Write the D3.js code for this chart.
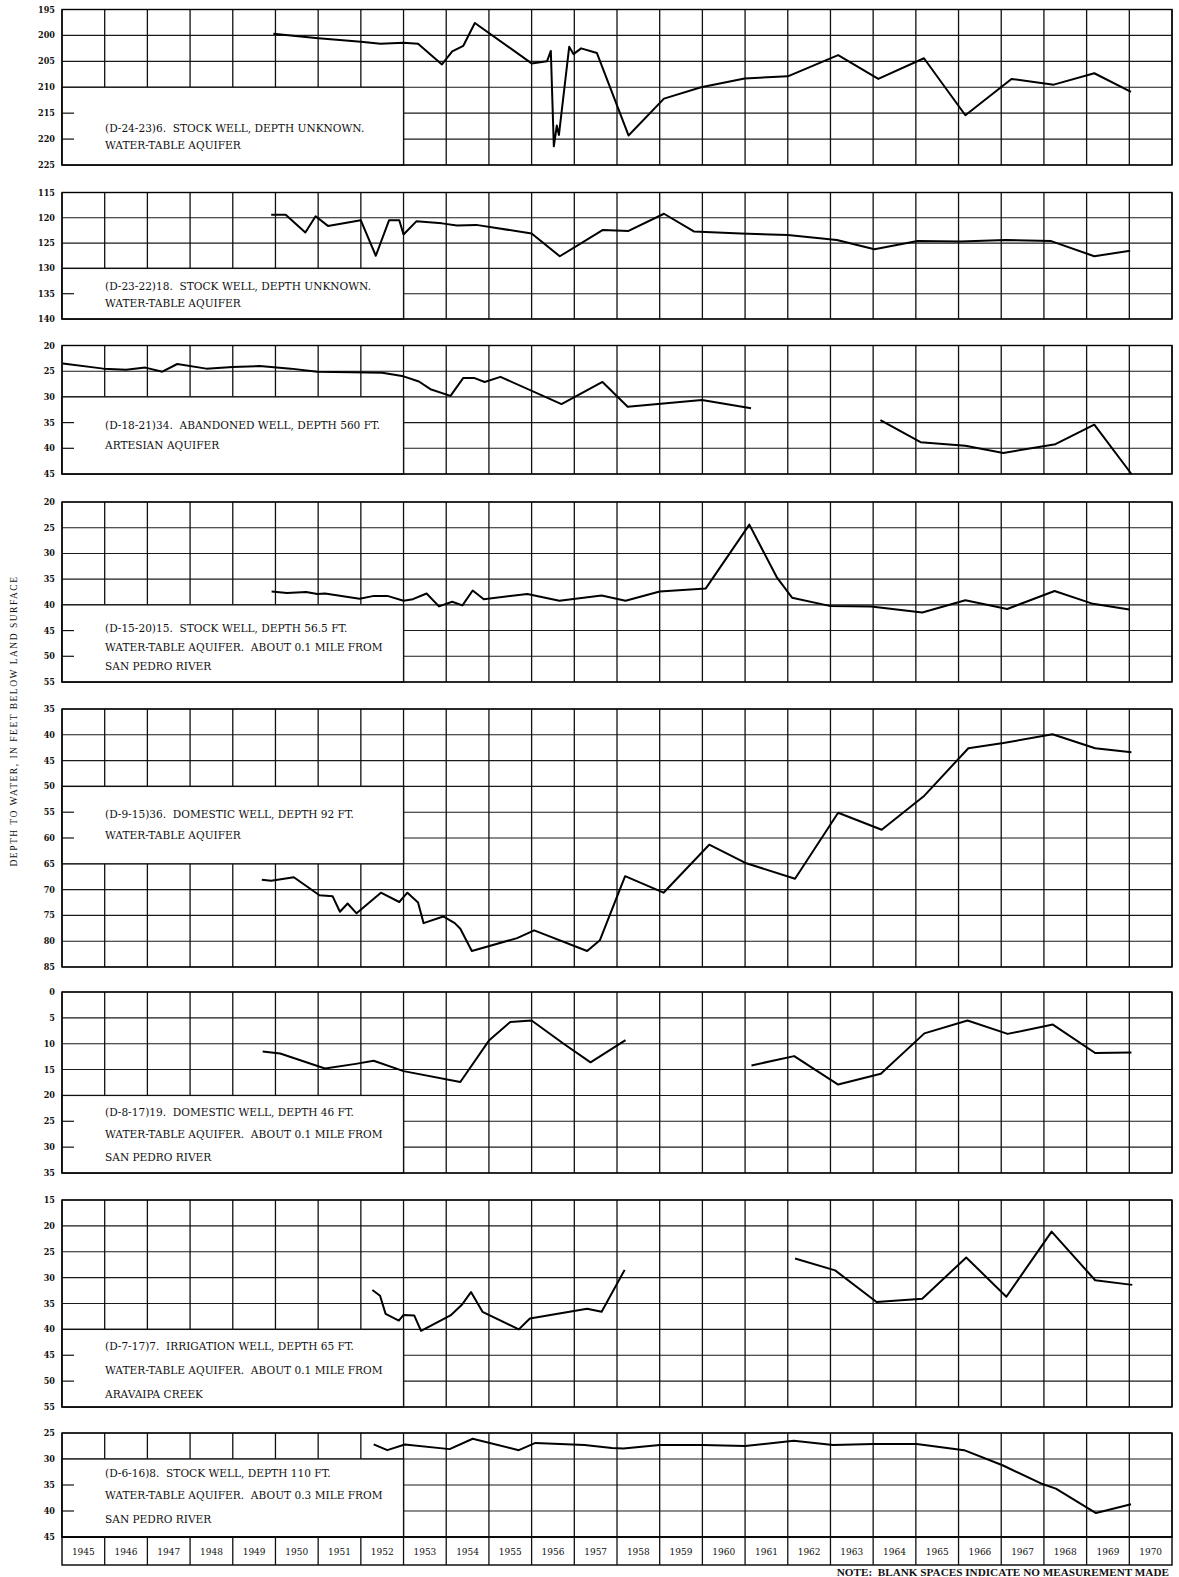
<!DOCTYPE html>
<html><head><meta charset="utf-8">
<script src="https://cdn.jsdelivr.net/npm/d3@7/dist/d3.min.js"></script>
<style>body{margin:0;background:#fff}svg{display:block}</style>
</head><body>
<svg id="c" width="1179" height="1577"></svg>
<script>
// ---------------- DATA ----------------
const years = d3.range(1945, 1971);
const tickStep = 5;
const panelDomains = [[195,225],[115,140],[20,45],[20,55],[35,85],[0,35],[15,55],[25,45]];
const boxRanges = [[210,225],[130,140],[30,45],[40,55],[50,65],[20,35],[40,55],[30,45]];
const boxEndYear = 1953;
const panelLabels = [
  ["(D-24-23)6.  STOCK WELL, DEPTH UNKNOWN.", "WATER-TABLE AQUIFER"],
  ["(D-23-22)18.  STOCK WELL, DEPTH UNKNOWN.", "WATER-TABLE AQUIFER"],
  ["(D-18-21)34.  ABANDONED WELL, DEPTH 560 FT.", "ARTESIAN AQUIFER"],
  ["(D-15-20)15.  STOCK WELL, DEPTH 56.5 FT.", "WATER-TABLE AQUIFER.  ABOUT 0.1 MILE FROM", "SAN PEDRO RIVER"],
  ["(D-9-15)36.  DOMESTIC WELL, DEPTH 92 FT.", "WATER-TABLE AQUIFER"],
  ["(D-8-17)19.  DOMESTIC WELL, DEPTH 46 FT.", "WATER-TABLE AQUIFER.  ABOUT 0.1 MILE FROM", "SAN PEDRO RIVER"],
  ["(D-7-17)7.  IRRIGATION WELL, DEPTH 65 FT.", "WATER-TABLE AQUIFER.  ABOUT 0.1 MILE FROM", "ARAVAIPA CREEK"],
  ["(D-6-16)8.  STOCK WELL, DEPTH 110 FT.", "WATER-TABLE AQUIFER.  ABOUT 0.3 MILE FROM", "SAN PEDRO RIVER"]
];
const yAxisTitle = "DEPTH TO WATER, IN FEET BELOW LAND SURFACE";
const noteText = "NOTE:  BLANK SPACES INDICATE NO MEASUREMENT MADE";

// [decimal year, depth in feet]; null = no measurement (gap)
const well1 = [[1949.95,199.7],[1950.94,200.5],[1952.0,201.2],[1952.46,201.6],[1953.0,201.4],[1953.34,201.6],
  [1953.9,205.6],[1954.14,203.1],[1954.4,202.0],[1954.67,197.6],[1956.0,205.4],[1956.36,205.0],[1956.45,203.0],
  [1956.52,221.4],[1956.59,217.4],[1956.64,219.2],[1956.88,202.2],[1956.98,203.6],[1957.16,202.5],[1957.53,203.4],
  [1958.27,219.3],[1959.1,212.2],[1959.97,210.0],[1960.99,208.3],[1962.0,207.9],[1963.18,203.8],[1964.12,208.4],
  [1965.19,204.4],[1966.16,215.4],[1967.24,208.4],[1968.23,209.5],[1969.18,207.3],[1970.04,210.9]];
const well2 = [[1949.9,119.4],[1950.24,119.4],[1950.7,122.9],[1950.94,119.7],[1951.23,121.6],[1952.0,120.5],
  [1952.35,127.5],[1952.66,120.5],[1952.9,120.5],[1953.0,123.3],[1953.3,120.7],[1953.9,121.1],[1954.25,121.5],
  [1954.7,121.4],[1956.0,123.1],[1956.66,127.6],[1957.67,122.4],[1958.27,122.6],[1959.1,119.2],[1959.8,122.7],
  [1960.9,123.1],[1962.0,123.4],[1963.15,124.4],[1964.03,126.2],[1965.04,124.6],[1966.04,124.7],[1967.1,124.4],
  [1968.17,124.6],[1969.18,127.6],[1970.02,126.5]];
const well3 = [[1945.02,23.5],[1945.97,24.5],[1946.5,24.7],[1946.95,24.3],[1947.35,25.1],[1947.7,23.6],
  [1948.38,24.5],[1949.0,24.2],[1949.63,24.0],[1950.36,24.5],[1950.98,25.1],[1951.78,25.2],[1952.5,25.3],
  [1953.0,26.0],[1953.36,27.0],[1953.63,28.5],[1954.1,29.8],[1954.4,26.3],[1954.65,26.3],[1954.9,27.1],
  [1955.27,26.1],[1956.7,31.4],[1957.66,27.1],[1958.25,31.9],[1959.99,30.6],[1961.14,32.2],null,
  [1964.17,34.5],[1965.11,38.8],[1966.16,39.5],[1967.05,40.9],[1968.27,39.2],[1969.18,35.4],[1970.05,45.0]];
const well4 = [[1949.91,37.4],[1950.27,37.7],[1950.72,37.5],[1950.98,37.9],[1951.16,37.8],[1951.97,38.8],
  [1952.28,38.3],[1952.64,38.3],[1953.0,39.2],[1953.22,38.9],[1953.54,37.8],[1953.83,40.3],[1954.14,39.4],
  [1954.38,40.1],[1954.62,37.2],[1954.88,38.9],[1955.9,37.9],[1956.65,39.2],[1957.64,38.2],[1958.2,39.2],
  [1959.0,37.4],[1960.08,36.8],[1961.1,24.4],[1961.74,34.6],[1962.1,38.6],[1962.98,40.2],[1963.95,40.3],
  [1965.15,41.5],[1966.16,39.1],[1967.14,40.8],[1968.25,37.3],[1969.15,39.8],[1970.0,40.9]];
const well5 = [[1949.68,68.1],[1949.9,68.3],[1950.43,67.6],[1951.03,71.1],[1951.34,71.3],[1951.51,74.3],
  [1951.69,72.7],[1951.9,74.6],[1952.47,70.6],[1952.9,72.4],[1953.09,70.6],[1953.34,72.5],[1953.47,76.5],
  [1953.93,75.2],[1954.2,76.5],[1954.33,77.6],[1954.6,81.9],[1955.66,79.4],[1956.06,77.9],[1957.3,81.9],
  [1957.6,79.8],[1958.19,67.4],[1959.09,70.6],[1960.16,61.3],[1961.03,64.9],[1962.17,67.9],[1963.18,55.1],
  [1964.2,58.4],[1965.2,51.8],[1966.23,42.6],[1967.05,41.6],[1968.2,39.9],[1969.2,42.6],[1970.05,43.4]];
const well6 = [[1949.7,11.5],[1950.11,11.9],[1951.16,14.8],[1951.88,13.9],[1952.3,13.3],[1953.0,15.3],
  [1954.33,17.4],[1955.0,9.4],[1955.5,5.8],[1956.0,5.5],[1956.75,10.0],[1957.38,13.6],[1958.2,9.3],null,
  [1961.15,14.2],[1962.15,12.4],[1963.18,17.9],[1964.18,15.8],[1965.2,8.0],[1966.21,5.5],[1967.15,8.1],
  [1968.21,6.3],[1969.2,11.8],[1970.05,11.7]];
const well7 = [[1952.27,32.4],[1952.45,33.5],[1952.58,37.0],[1952.89,38.3],[1953.0,37.2],[1953.25,37.3],
  [1953.41,40.3],[1954.1,37.3],[1954.36,35.3],[1954.58,32.8],[1954.85,36.6],[1955.7,40.0],[1955.96,37.9],
  [1957.3,36.0],[1957.64,36.6],[1958.18,28.5],null,
  [1962.17,26.3],[1963.11,28.6],[1964.08,34.7],[1965.15,34.1],[1966.18,26.1],[1967.12,33.7],[1968.18,21.1],
  [1969.2,30.5],[1970.07,31.4]];
const well8 = [[1952.3,27.2],[1952.62,28.3],[1953.03,27.2],[1954.08,28.1],[1954.62,26.1],[1955.7,28.3],
  [1956.09,26.9],[1957.24,27.3],[1957.88,27.9],[1958.15,28.0],[1959.0,27.3],[1960.0,27.3],[1961.0,27.5],
  [1962.14,26.5],[1963.06,27.3],[1964.0,27.1],[1965.02,27.1],[1966.13,28.3],[1967.03,31.2],[1967.93,34.7],
  [1968.28,35.7],[1969.22,40.4],[1970.04,38.7]];
const wells = [well1, well2, well3, well4, well5, well6, well7, well8];

// ---------------- LAYOUT ----------------
const L = 62, R = 1172;
const panelTops = [9.5, 192.5, 345.5, 502, 709, 992, 1200, 1433];
const panelBottoms = [165, 319, 474, 682, 967, 1173, 1407, 1537];
const labelFractions = [[0.52,0.74],[0.34,0.68],[0.37,0.63],[0.30,0.54,0.79],[0.36,0.63],
  [0.22,0.5,0.8],[0.22,0.52,0.83],[0.18,0.46,0.77]];
const yearRow = [1537, 1565];

const svg = d3.select("#c");
const x = d3.scaleLinear().domain([1945, 1971]).range([L, R]);
const serif = "'DejaVu Serif','Liberation Serif',serif";
const titleFont = "'Liberation Serif','DejaVu Serif',serif";
const tickFont = "'DejaVu Serif Condensed','DejaVu Serif',serif";

// size the box text so the widest line spans the same width as in the source figure (~278 px)
const probe = svg.append("text").attr("font-family", serif).attr("font-size", 10)
  .attr("xml:space", "preserve").text(panelLabels[3][1]);
const boxFont = 10 * 278 / probe.node().getComputedTextLength();
probe.remove();

wells.forEach((data, i) => {
  const dom = panelDomains[i];
  const y = d3.scaleLinear().domain(dom).range([panelTops[i], panelBottoms[i]]);
  const g = svg.append("g");
  const ticks = d3.range(dom[0], dom[1] + 0.001, tickStep);

  g.selectAll("line.h").data(ticks).join("line")
    .attr("x1", L).attr("x2", R).attr("y1", d => y(d)).attr("y2", d => y(d))
    .attr("stroke", "#1a1a1a").attr("stroke-width", 1.1);
  g.selectAll("line.v").data(d3.range(1945, 1972)).join("line")
    .attr("x1", d => x(d)).attr("x2", d => x(d)).attr("y1", y(dom[0])).attr("y2", y(dom[1]))
    .attr("stroke", "#111").attr("stroke-width", 1.3);

  const b = boxRanges[i];
  const bx0 = L, bx1 = x(boxEndYear), by0 = y(b[0]), by1 = y(b[1]);
  g.append("rect").attr("x", bx0).attr("y", by0).attr("width", bx1 - bx0).attr("height", by1 - by0)
    .attr("fill", "#fff").attr("stroke", "#111").attr("stroke-width", 1.3);
  g.selectAll("line.s").data(ticks.filter(v => v > b[0] && v < b[1])).join("line")
    .attr("x1", L).attr("x2", L + 12).attr("y1", d => y(d)).attr("y2", d => y(d))
    .attr("stroke", "#111").attr("stroke-width", 1.2);
  const lines = panelLabels[i];
  const fr = labelFractions[i];
  lines.forEach((t, k) => {
    g.append("text").attr("x", 105).attr("y", by0 + (by1 - by0) * fr[k])
      .attr("dominant-baseline", "central").attr("font-family", serif)
      .attr("font-size", boxFont).attr("fill", "#111")
      .attr("xml:space", "preserve").text(t);
  });

  g.append("rect").attr("x", L).attr("y", y(dom[0])).attr("width", R - L).attr("height", y(dom[1]) - y(dom[0]))
    .attr("fill", "none").attr("stroke", "#000").attr("stroke-width", 1.4);

  const line = d3.line().defined(d => d !== null).x(d => x(d[0])).y(d => y(d[1]));
  g.append("path").attr("d", line(data)).attr("fill", "none")
    .attr("stroke", "#000").attr("stroke-width", 2).attr("stroke-linejoin", "round");

  g.selectAll("text.t").data(ticks).join("text")
    .attr("x", 55).attr("y", d => y(d)).attr("text-anchor", "end").attr("dominant-baseline", "central")
    .attr("font-family", tickFont).attr("font-weight", "bold").attr("font-size", 9).attr("fill", "#111")
    .text(d => d);
});

// year row
const yr = svg.append("g");
yr.append("rect").attr("x", L).attr("y", yearRow[0]).attr("width", R - L).attr("height", yearRow[1] - yearRow[0])
  .attr("fill", "none").attr("stroke", "#000").attr("stroke-width", 1.4);
yr.selectAll("line").data(d3.range(1946, 1971)).join("line")
  .attr("x1", d => x(d)).attr("x2", d => x(d)).attr("y1", yearRow[0]).attr("y2", yearRow[1])
  .attr("stroke", "#111").attr("stroke-width", 1.3);
yr.selectAll("text").data(years).join("text")
  .attr("x", d => x(d + 0.5)).attr("y", (yearRow[0] + yearRow[1]) / 2).attr("text-anchor", "middle")
  .attr("dominant-baseline", "central").attr("font-family", tickFont).attr("font-size", 10).attr("fill", "#111")
  .text(d => d);

// note
svg.append("text").attr("x", 1169).attr("y", 1576).attr("text-anchor", "end")
  .attr("font-family", titleFont).attr("font-size", 11.2).attr("font-weight", "bold").attr("fill", "#111")
  .attr("xml:space", "preserve").text(noteText);

// y axis title
svg.append("text").attr("transform", "translate(14,721) rotate(-90)").attr("text-anchor", "middle")
  .attr("dominant-baseline", "central").attr("font-family", titleFont).attr("font-size", 9.5)
  .attr("letter-spacing", 1.5).attr("fill", "#111").text(yAxisTitle);
</script>
</body></html>
